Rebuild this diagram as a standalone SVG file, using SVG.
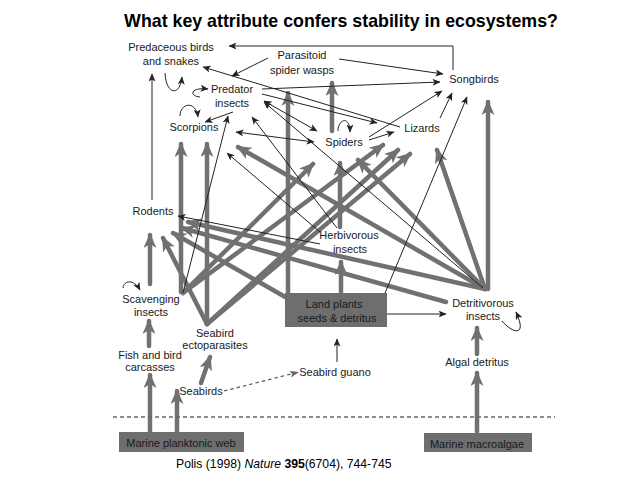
<svg xmlns="http://www.w3.org/2000/svg" width="638" height="479" viewBox="0 0 638 479">
<defs>
<style>
.lbl{font-family:"Liberation Sans",Arial,sans-serif;font-size:11px;fill:#1a1a1a;text-anchor:middle}
.box{fill:#6e6e6e}
.thin{fill:none;stroke:#222;stroke-width:1;marker-end:url(#t)}
.dbl{marker-start:url(#t)}
.thick{fill:none;stroke:#717171;stroke-width:4.5;stroke-linecap:round;marker-end:url(#g)}
.loop{fill:none;stroke:#222;stroke-width:1;marker-end:url(#t)}
</style>
<marker id="g" markerUnits="userSpaceOnUse" markerWidth="16" markerHeight="14" refX="13" refY="6.5" orient="auto"><path d="M0,0 L15,6.5 L0,13 L4,6.5 z" fill="#717171"/></marker>
<marker id="t" markerUnits="userSpaceOnUse" markerWidth="9" markerHeight="8" refX="7.5" refY="3.5" orient="auto-start-reverse"><path d="M0,0 L8,3.5 L0,7 L2,3.5 z" fill="#222"/></marker>
<marker id="d" markerUnits="userSpaceOnUse" markerWidth="10" markerHeight="8" refX="9" refY="3.5" orient="auto"><path d="M0,0 L9,3.5 L0,7 L2,3.5 z" fill="#666"/></marker>
</defs>
<rect width="638" height="479" fill="#fff"/>
<text x="341" y="27" font-family="Liberation Sans,Arial,sans-serif" font-size="17.8" font-weight="bold" text-anchor="middle" fill="#000">What key attribute confers stability in ecosystems?</text>

<g id="connectors">
<!-- thick gray -->
<line class="thick" x1="150" y1="432" x2="150" y2="375"/>
<line class="thick" x1="177" y1="432" x2="177" y2="391"/>
<line class="thick" x1="149" y1="346" x2="149" y2="321"/>
<line class="thick" x1="201" y1="383" x2="210" y2="357"/>
<line class="thick" x1="477" y1="432" x2="477" y2="373"/>
<line class="thick" x1="477" y1="354" x2="477" y2="328"/>
<line class="thick" x1="341" y1="292" x2="341" y2="262"/>
<line class="thick" x1="340" y1="227" x2="340" y2="163"/>
<line class="thick" x1="288" y1="295" x2="288" y2="93"/>
<line class="thick" x1="332" y1="131" x2="332" y2="83"/>
<line class="thick" x1="181" y1="292" x2="181" y2="144"/>
<line class="thick" x1="207" y1="324" x2="207" y2="144"/>
<line class="thick" x1="150" y1="284" x2="150" y2="235"/>
<line class="thick" x1="488" y1="289" x2="488" y2="102"/>
<line class="thick" x1="207" y1="324" x2="163" y2="238"/>
<line class="thick" x1="287" y1="298" x2="173" y2="233"/>
<line class="thick" x1="446" y1="302" x2="182" y2="228"/>
<line class="thick" x1="485" y1="289" x2="188" y2="222"/>
<line class="thick" x1="485" y1="289" x2="238" y2="147"/>
<line class="thick" x1="485" y1="289" x2="358" y2="160"/>
<line class="thick" x1="485" y1="289" x2="437" y2="150"/>
<line class="thick" x1="183" y1="293" x2="313" y2="164"/>
<line class="thick" x1="183" y1="293" x2="383" y2="145"/>
<line class="thick" x1="207" y1="324" x2="398" y2="150"/>
<line class="thick" x1="207" y1="324" x2="410" y2="154"/>
<!-- thin black -->
<path class="thin" d="M453,70 L453,46 L229,46"/>
<line class="thin" x1="339" y1="59" x2="443" y2="74"/>
<line class="thin" x1="262" y1="89" x2="440" y2="82"/>
<line class="thin" x1="262" y1="94" x2="377" y2="123"/>
<line class="thin" x1="400" y1="127" x2="203" y2="67"/>
<line class="thin" x1="268" y1="58" x2="232" y2="76"/>
<line class="thin" x1="233" y1="112" x2="205" y2="122"/>
<line class="thin" x1="183" y1="293" x2="228" y2="116"/>
<line class="thin" x1="337" y1="228" x2="252" y2="117"/>
<line class="thin" x1="320" y1="232" x2="227" y2="153"/>
<line class="thin" x1="483" y1="288" x2="264" y2="102"/>
<line class="thin dbl" x1="264" y1="101" x2="317" y2="131"/>
<line class="thin dbl" x1="236" y1="132" x2="314" y2="142"/>
<line class="thin" x1="369" y1="140" x2="394" y2="132"/>
<line class="thin" x1="369" y1="137" x2="442" y2="91"/>
<line class="thin" x1="440" y1="118" x2="452" y2="93"/>
<line class="thin" x1="385" y1="293" x2="467" y2="97"/>
<line class="thin" x1="320" y1="244" x2="178" y2="216"/>
<line class="thin" x1="152" y1="200" x2="152" y2="74"/>
<line class="thin" x1="387" y1="314" x2="446" y2="314"/>
<line class="thin" x1="337" y1="362" x2="337" y2="339"/>
<line x1="224" y1="391" x2="299" y2="372" stroke="#555" stroke-width="1.2" stroke-dasharray="3.5,3" marker-end="url(#d)"/>
<!-- self loops -->
<path class="loop" d="M165,73 C166,95 180,97 182,77"/>
<path class="loop" d="M200,97 C189,96 190,87 208,89"/>
<path class="loop" d="M180,116 C180,103 196,100 198,117"/>
<path class="loop" d="M338,131 C338,119 350,115 350,132"/>
<path class="loop" d="M123,288 C124,280 134,279 140,290"/>
<path class="loop" d="M502,321 C512,333 528,338 516,312"/>
<!-- dashed shoreline -->
<line x1="113" y1="417" x2="555" y2="417" stroke="#666" stroke-width="1.3" stroke-dasharray="4,3"/>
</g>

<g id="predaceous-birds"><text class="lbl" x="171" y="51">Predaceous birds</text><text class="lbl" x="171" y="65">and snakes</text></g>
<g id="parasitoid-wasps"><text class="lbl" x="302" y="59">Parasitoid</text><text class="lbl" x="302" y="74">spider wasps</text></g>
<g id="songbirds"><text class="lbl" x="474" y="83">Songbirds</text></g>
<g id="predator-insects"><text class="lbl" x="232" y="93">Predator</text><text class="lbl" x="232" y="107">insects</text></g>
<g id="scorpions"><text class="lbl" x="194" y="131">Scorpions</text></g>
<g id="spiders"><text class="lbl" x="344" y="146">Spiders</text></g>
<g id="lizards"><text class="lbl" x="422" y="132">Lizards</text></g>
<g id="rodents"><text class="lbl" x="153" y="215">Rodents</text></g>
<g id="herbivorous-insects"><text class="lbl" x="349" y="239">Herbivorous</text><text class="lbl" x="350" y="253">insects</text></g>
<g id="land-plants"><rect class="box" x="285" y="293" width="102" height="34"/><text class="lbl" x="334" y="308">Land plants</text><text class="lbl" x="337" y="322">seeds &amp; detritus</text></g>
<g id="detritivorous-insects"><text class="lbl" x="483" y="307">Detritivorous</text><text class="lbl" x="483" y="320">insects</text></g>
<g id="scavenging-insects"><text class="lbl" x="151" y="303">Scavenging</text><text class="lbl" x="151" y="316">insects</text></g>
<g id="seabird-ectoparasites"><text class="lbl" x="215" y="337">Seabird</text><text class="lbl" x="215" y="349">ectoparasites</text></g>
<g id="fish-carcasses"><text class="lbl" x="150" y="359">Fish and bird</text><text class="lbl" x="150" y="371">carcasses</text></g>
<g id="seabirds"><text class="lbl" x="201" y="395">Seabirds</text></g>
<g id="seabird-guano"><text class="lbl" x="335" y="376">Seabird guano</text></g>
<g id="algal-detritus"><text class="lbl" x="477" y="366">Algal detritus</text></g>
<g id="marine-planktonic"><rect class="box" x="119" y="432" width="125" height="20"/><text class="lbl" x="181" y="447">Marine planktonic web</text></g>
<g id="marine-macroalgae"><rect class="box" x="424" y="433" width="108" height="19"/><text class="lbl" x="477" y="448">Marine macroalgae</text></g>

<text x="176" y="468" font-family="Liberation Sans,Arial,sans-serif" font-size="12.2" fill="#000">Polis (1998) <tspan font-style="italic">Nature</tspan> <tspan font-weight="bold">395</tspan>(6704), 744-745</text>
</svg>
